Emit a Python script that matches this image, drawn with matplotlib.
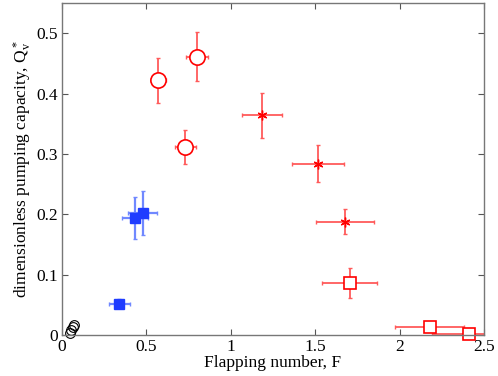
import matplotlib
matplotlib.use('Agg')
import matplotlib.pyplot as plt

plt.rcParams['font.family'] = ['Liberation Serif', 'DejaVu Serif']
plt.rcParams['mathtext.fontset'] = 'custom'
plt.rcParams['mathtext.rm'] = 'Liberation Serif'
plt.rcParams['mathtext.it'] = 'Liberation Serif'

# red open circles
circ_x = [0.57, 0.80, 0.73]
circ_y = [0.422, 0.461, 0.311]
circ_xerr = [0.045, 0.065, 0.063]
circ_yerr = [0.037, 0.041, 0.028]

# red stars
star_x = [1.185, 1.514, 1.677]
star_y = [0.364, 0.284, 0.188]
star_xerr = [0.12, 0.154, 0.17]
star_yerr = [0.037, 0.03, 0.02]

# red open squares
sq_x = [1.704, 2.178, 2.409]
sq_y = [0.086, 0.014, 0.002]
sq_xerr = [0.163, 0.205, 0.22]
sq_yerr = [0.025, 0.0, 0.0]

# blue filled squares
blue_x = [0.34, 0.432, 0.478]
blue_y = [0.052, 0.194, 0.202]
blue_xerr = [0.06, 0.078, 0.087]
blue_yerr = [0.008, 0.035, 0.037]

# black open circles near origin
blk_x = [0.045, 0.055, 0.065, 0.072]
blk_y = [0.004, 0.009, 0.013, 0.017]

red = '#ff0000'
red_err = '#ff5a5a'
blue = '#1f3cff'
blue_err = '#7088ff'

fig = plt.figure(figsize=(4.98, 3.76), dpi=100)
ax = fig.add_axes([0.1245, 0.109, 0.8475, 0.883])

ax.errorbar(circ_x, circ_y, xerr=circ_xerr, yerr=circ_yerr, fmt='none',
            ecolor=red_err, elinewidth=1.3, capsize=1.5)
ax.plot(circ_x, circ_y, 'o', ms=11, mfc='white', mec=red, mew=1.2, ls='none')

ax.errorbar(star_x, star_y, xerr=star_xerr, yerr=star_yerr, fmt='none',
            ecolor=red_err, elinewidth=1.3, capsize=1.5)
ax.plot(star_x, star_y, marker=(6, 2, 0), ms=7, color=red, mew=1.0, ls='none')

ax.errorbar(sq_x, sq_y, xerr=sq_xerr, yerr=sq_yerr, fmt='none',
            ecolor=red_err, elinewidth=1.3, capsize=1.5, clip_on=True)
ax.plot(sq_x, sq_y, 's', ms=8.5, mfc='white', mec=red, mew=1.2, ls='none', clip_on=False)

ax.errorbar(blue_x, blue_y, xerr=blue_xerr, yerr=blue_yerr, fmt='none',
            ecolor=blue_err, elinewidth=1.6, capsize=1.5)
ax.plot(blue_x, blue_y, 's', ms=7.5, color=blue, ls='none')

ax.plot(blk_x, blk_y, 'o', ms=7, mfc='none', mec='black', mew=0.8, ls='none', clip_on=False)

ax.set_xlim(0, 2.5)
ax.set_ylim(0, 0.55)
ax.set_xticks([0, 0.5, 1, 1.5, 2, 2.5])
ax.set_xticklabels(['0', '0.5', '1', '1.5', '2', '2.5'])
ax.set_yticks([0, 0.1, 0.2, 0.3, 0.4, 0.5])
ax.set_yticklabels(['0', '0.1', '0.2', '0.3', '0.4', '0.5'])
ax.tick_params(direction='in', top=True, right=True, labelsize=12.5, length=4,
               color='#555555', pad=3)
for s in ax.spines.values():
    s.set_color('#777777')
    s.set_linewidth(1.0)

ax.set_xlabel('Flapping number, F', fontsize=12.5, labelpad=0)
ax.set_ylabel('dimensionless pumping capacity, Q$_v^*$', fontsize=12.5, labelpad=2)

fig.savefig('out.png', dpi=100)
